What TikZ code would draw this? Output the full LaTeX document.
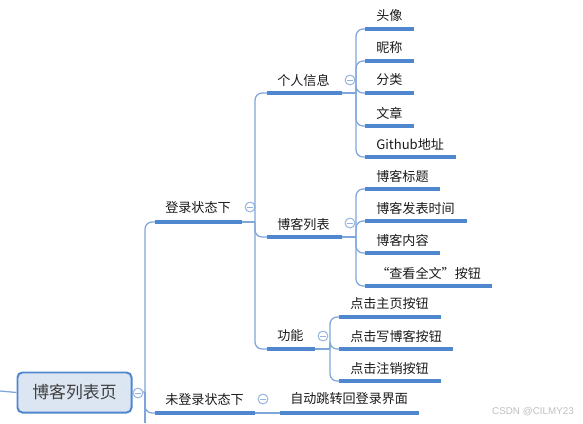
\documentclass[tikz,border=0pt]{standalone}
\usepackage{fontspec}
\setmainfont{Noto Sans CJK SC}
\newfontfamily\wmfont{Liberation Sans}
\usetikzlibrary{positioning}

\definecolor{mline}{HTML}{4F87CF}
\definecolor{mthin}{HTML}{7EA6DB}
\definecolor{mfill}{HTML}{DCE6F2}
\definecolor{mcirc}{HTML}{94B3E0}
\definecolor{mtext}{HTML}{1A1A1A}

\tikzset{
  topic/.style={anchor=west, inner sep=0pt, text=mtext, font=\fontsize{9.3}{11}\selectfont},
  uline/.style={line width=2.2pt, draw=mline},
  branch/.style={line width=0.9pt, draw=mthin, rounded corners=5pt},
  fold/.style={circle, draw=mcirc, fill=white, line width=0.7pt, minimum size=7pt, inner sep=0pt,
    path picture={\draw[mcirc, line width=0.7pt] ([xshift=-2pt]path picture bounding box.center) -- ([xshift=2pt]path picture bounding box.center);}},
  rootbox/.style={draw=mline, fill=mfill, line width=1.4pt, rounded corners=3.5pt, minimum width=2.85cm,
    minimum height=1cm, text=black!75, font=\fontsize{12}{14}\selectfont}
}

\begin{document}
\begin{tikzpicture}[x=0.025cm,y=-0.025cm]
\useasboundingbox (0,0) rectangle (583,423);
%root
\node[rootbox] (root) at (74.5,392.5) {博客列表页};
\coordinate (up) at (0,391);
\coordinate (j0) at (145,392);
\coordinate (down) at (145,423);
\draw[branch] (up)--(root.west);
\draw[branch] (root.east)--(j0);
\draw[branch] (j0)--(down);
\node[fold] (f0) at (138,393) {};

%login
\coordinate (s1) at (155,222); \coordinate (e1) at (242,222);
\coordinate (j1) at (255,222);
\draw[branch] (j0) |- (s1);
\draw[uline] (s1)--(e1);
\draw[branch] (e1)--(j1);
\node[topic] (login) at (165,208) {登录状态下};
\node[fold] (f1) at (250,207) {};

%no login
\coordinate (s2) at (155,413); \coordinate (e2) at (255,413);
\draw[branch] (j0) |- (s2);
\draw[uline] (s2)--(e2);
\node[topic] (nologin) at (165,400) {未登录状态下};
\node[fold] (f2) at (263,399) {};
\coordinate (s21) at (280,413); \coordinate (e21) at (419,413);
\draw[branch] (e2)--(s21);
\draw[uline] (s21)--(e21);
\node[topic] (jump) at (290,399) {自动跳转回登录界面};

%info
\coordinate (s11) at (267,93); \coordinate (e11) at (342,93);
\coordinate (j2) at (356,93);
\draw[branch] (j1) |- (s11);
\draw[uline] (s11)--(e11);
\draw[branch] (e11)--(j2);
\node[topic] (info) at (277,80) {个人信息};
\node[fold] (f11) at (350,80) {};
\foreach \n/\y/\xe/\t in {a/29/414/头像, b/61/414/昵称, c/93/414/分类, d/126/414/文章, e/157/456/Github地址}{
  \coordinate (i\n0) at (365,\y); \coordinate (i\n1) at (\xe,\y);
  \draw[branch] (j2) |- (i\n0);
  \draw[uline] (i\n0)--(i\n1);
  \node[topic] (i\n) at (376,\y-13) {\t};
}

%blog list
\coordinate (s12) at (267,237); \coordinate (e12) at (342,237);
\coordinate (j3) at (356,237);
\draw[branch] (j1) |- (s12);
\draw[uline] (s12)--(e12);
\draw[branch] (e12)--(j3);
\node[topic] (blist) at (277,224) {博客列表};
\node[fold] (f12) at (350,223) {};
\foreach \n/\y/\xe/\t in {a/189/440/博客标题, b/221/467/博客发表时间, c/253/440/博客内容, d/286/492/“查看全文”按钮}{
  \coordinate (b\n0) at (365,\y); \coordinate (b\n1) at (\xe,\y);
  \draw[branch] (j3) |- (b\n0);
  \draw[uline] (b\n0)--(b\n1);
  \node[topic] (b\n) at (376,\y-13) {\t};
}

%function
\coordinate (s13) at (267,349); \coordinate (e13) at (315,349);
\coordinate (j4) at (330,349);
\draw[branch] (j1) |- (s13);
\draw[uline] (s13)--(e13);
\draw[branch] (e13)--(j4);
\node[topic] (func) at (277,336) {功能};
\node[fold] (f13) at (323,336) {};
\foreach \n/\y/\xe/\t in {a/317/441/点击主页按钮, b/349/453/点击写博客按钮, c/381/441/点击注销按钮}{
  \coordinate (c\n0) at (339,\y); \coordinate (c\n1) at (\xe,\y);
  \draw[branch] (j4) |- (c\n0);
  \draw[uline] (c\n0)--(c\n1);
  \node[topic] (c\n) at (350,\y-13) {\t};
}

%mark
\node[text=black!25, font=\wmfont\fontsize{7}{8}\selectfont] (mark) at (533,412) {CSDN @CILMY23};
\end{tikzpicture}
\end{document}
